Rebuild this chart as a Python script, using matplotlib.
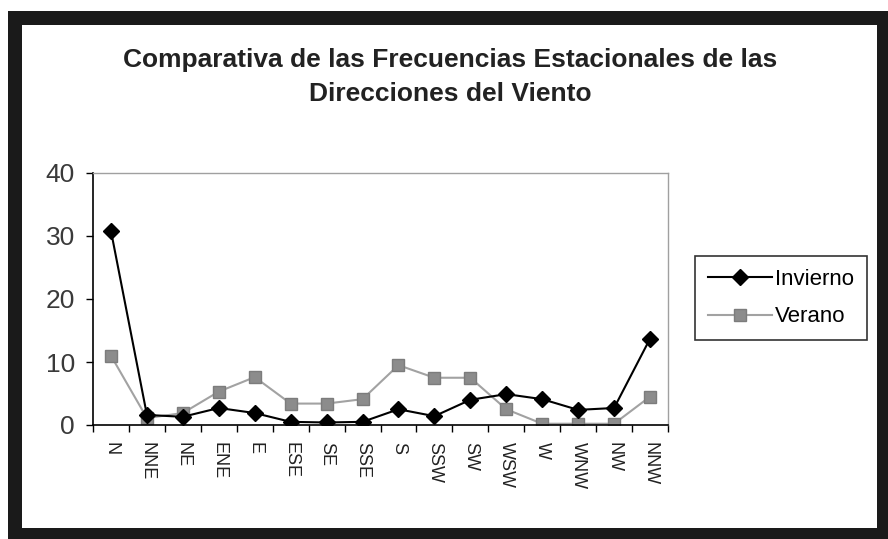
import matplotlib
matplotlib.use("Agg")
import matplotlib.pyplot as plt
from matplotlib.patches import Rectangle
import numpy as np

directions = ["N", "NNE", "NE", "ENE", "E", "ESE", "SE", "SSE", "S",
              "SSW", "SW", "WSW", "W", "WNW", "NW", "NNW"]
invierno = [30.8, 1.6, 1.3, 2.7, 1.9, 0.5, 0.4, 0.5, 2.5, 1.4, 4.0, 4.9, 4.1, 2.4, 2.7, 13.7]
verano = [11.0, 1.1, 1.9, 5.3, 7.6, 3.4, 3.4, 4.1, 9.5, 7.5, 7.5, 2.5, 0.2, 0.2, 0.2, 4.5]
yticks = [0, 10, 20, 30, 40]
title_lines = ["Comparativa de las Frecuencias Estacionales de las", "Direcciones del Viento"]

W, H = 888, 539
fig = plt.figure(figsize=(W / 100, H / 100), dpi=100)
fig.patch.set_facecolor("white")

def px(x0, y0, x1, y1, **kw):
    return Rectangle((x0 / W, 1 - y1 / H), (x1 - x0) / W, (y1 - y0) / H,
                     transform=fig.transFigure, **kw)

fig.patches.append(px(8, 11, 888, 539, facecolor="#1a1a1a", edgecolor="none", zorder=-10))
fig.patches.append(px(22, 25, 877, 528, facecolor="white", edgecolor="none", zorder=-9))

ax_l, ax_r, ax_t, ax_b = 93, 668, 173, 425
ax = fig.add_axes([ax_l / W, 1 - ax_b / H, (ax_r - ax_l) / W, (ax_b - ax_t) / H])
ax.set_zorder(5)
ax.set_facecolor("white")

x = np.arange(len(directions))
ax.plot(x, invierno, color="black", lw=1.5, marker="D", markersize=8,
        markerfacecolor="black", markeredgecolor="black", label="Invierno", zorder=3)
ax.plot(x, verano, color="#a2a2a2", lw=1.5, marker="s", markersize=9,
        markerfacecolor="#8c8c8c", markeredgecolor="#7c7c7c", label="Verano", zorder=2)

ax.set_xlim(-0.5, len(directions) - 0.5)
ax.set_ylim(0, 40)
ax.set_yticks(yticks)
ax.set_yticklabels([str(v) for v in yticks], fontsize=19, color="#3a3a3a",
                   fontfamily="Liberation Sans")
ax.set_xticks(x)
ax.set_xticklabels(directions, rotation=-90, fontsize=13, color="#222222",
                   fontfamily="Liberation Sans")
ax.set_xticks(np.arange(-0.5, len(directions), 1.0), minor=True)
ax.tick_params(axis="x", which="major", length=0, pad=12)
ax.tick_params(axis="x", which="minor", length=5, width=1, color="black", direction="out")
ax.tick_params(axis="y", which="major", length=5, width=1, color="black", direction="out", pad=8)

for s in ["left", "bottom"]:
    ax.spines[s].set_color("black")
    ax.spines[s].set_linewidth(1.2)
for s in ["top", "right"]:
    ax.spines[s].set_color("#a0a0a0")
    ax.spines[s].set_linewidth(1.0)

for line, yp in zip(title_lines, [67, 101]):
    fig.text(450 / W, 1 - yp / H, line, ha="center", va="baseline", fontsize=19,
             fontweight="bold", fontfamily="Liberation Sans", color="#222222", zorder=6)

leg = fig.legend(loc="center", bbox_to_anchor=(781 / W, 1 - 298 / H),
                 frameon=True, fancybox=False, handlelength=2.9,
                 handletextpad=0.15, borderpad=0.55, labelspacing=0.75,
                 borderaxespad=0,
                 prop={"family": "Liberation Sans", "size": 16})
leg.set_zorder(6)
leg.get_frame().set_edgecolor("black")
leg.get_frame().set_linewidth(1.2)

fig.savefig("out.png", dpi=100, facecolor="white")
